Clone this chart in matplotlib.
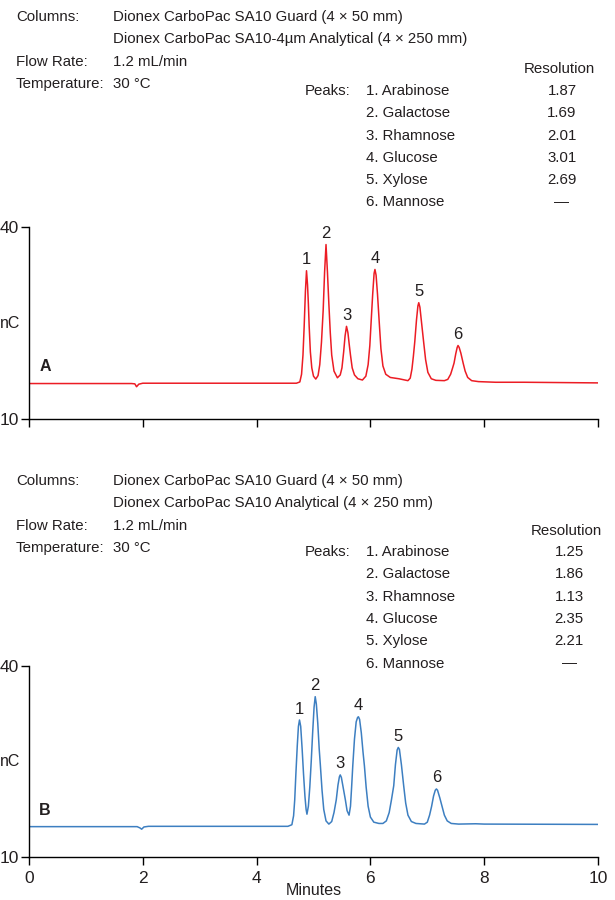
import matplotlib.pyplot as plt

plt.rcParams['font.family'] = ['Liberation Sans', 'DejaVu Sans']

# trace A (SA10-4um column): minutes, nC
time_a = [0.0, 1.80, 1.86, 1.89, 1.93, 2.0, 4.0, 4.70, 4.76, 4.79, 4.815, 4.836, 4.858,
          4.877, 4.895, 4.91, 4.924, 4.945, 4.97, 5.00, 5.04, 5.08, 5.11, 5.14, 5.17,
          5.195, 5.22, 5.245, 5.27, 5.295, 5.32, 5.36, 5.42, 5.47, 5.50, 5.53, 5.555,
          5.58, 5.605, 5.63, 5.65, 5.68, 5.72, 5.78, 5.86, 5.92, 5.96, 5.99, 6.01, 6.04,
          6.065, 6.08, 6.10, 6.125, 6.158, 6.185, 6.22, 6.27, 6.35, 6.50, 6.66, 6.70,
          6.73, 6.755, 6.78, 6.81, 6.835, 6.85, 6.87, 6.90, 6.935, 6.97, 7.01, 7.07,
          7.15, 7.30, 7.36, 7.41, 7.445, 7.47, 7.50, 7.525, 7.54, 7.56, 7.59, 7.63,
          7.665, 7.71, 7.78, 7.90, 8.20, 8.50, 8.70, 10.0]
signal_a = [15.55, 15.55, 15.5, 15.05, 15.45, 15.6, 15.6, 15.6, 15.8, 17.0, 20.0, 24.5, 30.0,
            33.2, 31.0, 28.0, 24.5, 20.5, 18.0, 16.7, 16.25, 16.8, 18.5, 22.0, 27.0,
            33.0, 37.3, 33.0, 28.0, 23.5, 20.0, 17.5, 16.45, 16.9, 18.0, 20.5, 23.0,
            24.5, 23.5, 21.5, 20.0, 18.0, 16.9, 16.3, 16.1, 16.7, 18.5, 21.5, 24.75, 29.5,
            32.8, 33.4, 32.5, 29.5, 24.75, 21.0, 18.3, 17.0, 16.5, 16.3, 16.0, 16.4,
            17.8, 19.8, 22.1, 25.5, 27.7, 28.2, 27.5, 25.0, 22.1, 19.3, 17.3, 16.3,
            16.05, 16.0, 16.2, 17.0, 18.0, 18.75, 20.2, 21.2, 21.5, 21.2, 20.3, 18.75,
            17.5, 16.5, 16.0, 15.85, 15.75, 15.75, 15.75, 15.65]

# trace B (SA10 column)
time_b = [0.0, 1.90, 1.95, 1.98, 2.02, 2.10, 4.0, 4.55, 4.62, 4.65, 4.67, 4.69, 4.715,
          4.735, 4.754, 4.775, 4.80, 4.825, 4.85, 4.87, 4.885, 4.91, 4.935, 4.96, 4.985,
          5.01, 5.03, 5.05, 5.075, 5.10, 5.12, 5.15, 5.18, 5.22, 5.27, 5.32, 5.36, 5.40,
          5.43, 5.455, 5.47, 5.49, 5.52, 5.56, 5.59, 5.625, 5.65, 5.67, 5.69, 5.72, 5.75,
          5.775, 5.79, 5.81, 5.84, 5.87, 5.895, 5.925, 5.96, 6.00, 6.06, 6.15, 6.22,
          6.28, 6.33, 6.37, 6.41, 6.44, 6.47, 6.49, 6.51, 6.545, 6.585, 6.62, 6.66,
          6.72, 6.80, 6.95, 7.00, 7.04, 7.075, 7.11, 7.14, 7.16, 7.18, 7.22, 7.26, 7.30,
          7.35, 7.42, 7.55, 7.85, 8.0, 10.0]
signal_b = [14.8, 14.8, 14.6, 14.4, 14.75, 14.85, 14.85, 14.85, 15.1, 16.5, 19.0, 23.0, 27.5,
            30.5, 31.5, 30.5, 27.0, 23.0, 19.5, 17.5, 16.75, 18.0, 21.0, 25.0, 29.5,
            33.5, 35.15, 34.0, 31.0, 27.0, 24.5, 20.5, 17.5, 15.7, 15.2, 15.6, 17.0, 19.0,
            21.3, 22.6, 22.9, 22.5, 21.0, 19.0, 17.3, 16.6, 18.0, 21.0, 24.3, 28.5, 31.2,
            31.9, 32.0, 31.6, 29.5, 26.5, 24.3, 21.0, 18.0, 16.3, 15.5, 15.3, 15.3,
            15.7, 17.0, 19.0, 21.2, 24.5, 26.8, 27.2, 26.9, 24.5, 21.2, 18.5, 16.6,
            15.6, 15.3, 15.2, 15.5, 16.6, 17.95, 19.6, 20.5, 20.7, 20.5, 19.3, 17.95, 16.6,
            15.7, 15.3, 15.2, 15.25, 15.2, 15.15]

peak_rt_a = [4.877, 5.22, 5.58, 6.08, 6.85, 7.54]
peak_top_a = [33.2, 37.3, 24.5, 33.4, 28.2, 21.5]
peak_rt_b = [4.754, 5.03, 5.47, 5.79, 6.49, 7.16]
peak_top_b = [31.5, 35.15, 22.9, 32.0, 27.2, 20.7]

peak_names = ['1. Arabinose', '2. Galactose', '3. Rhamnose', '4. Glucose', '5. Xylose', '6. Mannose']
resolution_a = ['1.87', '1.69', '2.01', '3.01', '2.69', '—']
resolution_b = ['1.25', '1.86', '1.13', '2.35', '2.21', '—']

column_a = 'Dionex CarboPac SA10-4µm Analytical (4 × 250 mm)'
column_b = 'Dionex CarboPac SA10 Analytical (4 × 250 mm)'

TXT = '#231f20'
FS = 10.8
W, H = 615, 900
fig = plt.figure(figsize=(6.15, 9.0), dpi=100)


def ftext(x, y, s, **kw):
    # place text by pixel position on the figure
    fig.text(x / W, 1 - y / H, s, color=TXT, fontsize=FS, va='center', **kw)


def header(y0, ypk, yres, xres, column):
    ftext(16, y0, 'Columns:')
    ftext(113, y0, 'Dionex CarboPac SA10 Guard (4 × 50 mm)')
    ftext(113, y0 + 22.3, column)
    ftext(16, y0 + 45, 'Flow Rate:')
    ftext(113, y0 + 45, '1.2 mL/min')
    ftext(16, y0 + 67, 'Temperature:')
    ftext(113, y0 + 67, '30 °C')
    ftext(xres, yres, 'Resolution', ha='center')
    ftext(305, ypk, 'Peaks:')


def panel(rect, t, s, rt, top, color, letter, res, xres, ypk, last):
    ax = fig.add_axes(rect)
    ax.plot(t, s, color=color, lw=1.1)
    for i, (x, y) in enumerate(zip(rt, top)):
        ax.annotate(str(i + 1), (x, y), xytext=(0, 2.5), textcoords='offset points',
                    ha='center', va='bottom', fontsize=12, color=TXT)
    ax.text(0.18, s[0] + 2.6, letter, fontsize=11.5, fontweight='bold', color=TXT, va='center')
    ax.set_xlim(0, 10)
    ax.set_ylim(10, 40)
    ax.set_yticks([10, 40])
    ax.set_xticks(range(0, 11, 2))
    for side in ['top', 'right']:
        ax.spines[side].set_visible(False)
    for side in ['left', 'bottom']:
        ax.spines[side].set_linewidth(1.0)
    ax.tick_params(direction='out', length=6, width=1.0, labelsize=12.5, labelcolor=TXT, pad=1.5)
    if last:
        ax.tick_params(axis='x', labelsize=12.5, pad=4)
        ax.set_xlabel('Minutes', fontsize=FS + 0.7, color=TXT, va='center')
        ax.xaxis.set_label_coords(0.5, -0.171)
    else:
        ax.set_xticklabels([])
    ax.set_ylabel('nC', rotation=0, fontsize=FS + 0.7, color=TXT, va='center', ha='center')
    ax.yaxis.set_label_coords(-0.033, 0.5)
    for i, name in enumerate(peak_names):
        y = ypk + i * 22.3
        ftext(366, y, name)
        ftext(xres + 3, y, res[i], ha='center')
    return ax


header(17, 91, 69, 559, column_a)
panel([29 / W, 1 - 419 / H, 569 / W, 191.7 / H], time_a, signal_a, peak_rt_a, peak_top_a,
      '#ec1c24', 'A', resolution_a, 559, 91, False)

header(481, 552, 531, 566, column_b)
panel([29 / W, 1 - 857.3 / H, 569 / W, 191.6 / H], time_b, signal_b, peak_rt_b, peak_top_b,
      '#3d7fc1', 'B', resolution_b, 566, 552, True)

fig.savefig('out.png', dpi=100)
